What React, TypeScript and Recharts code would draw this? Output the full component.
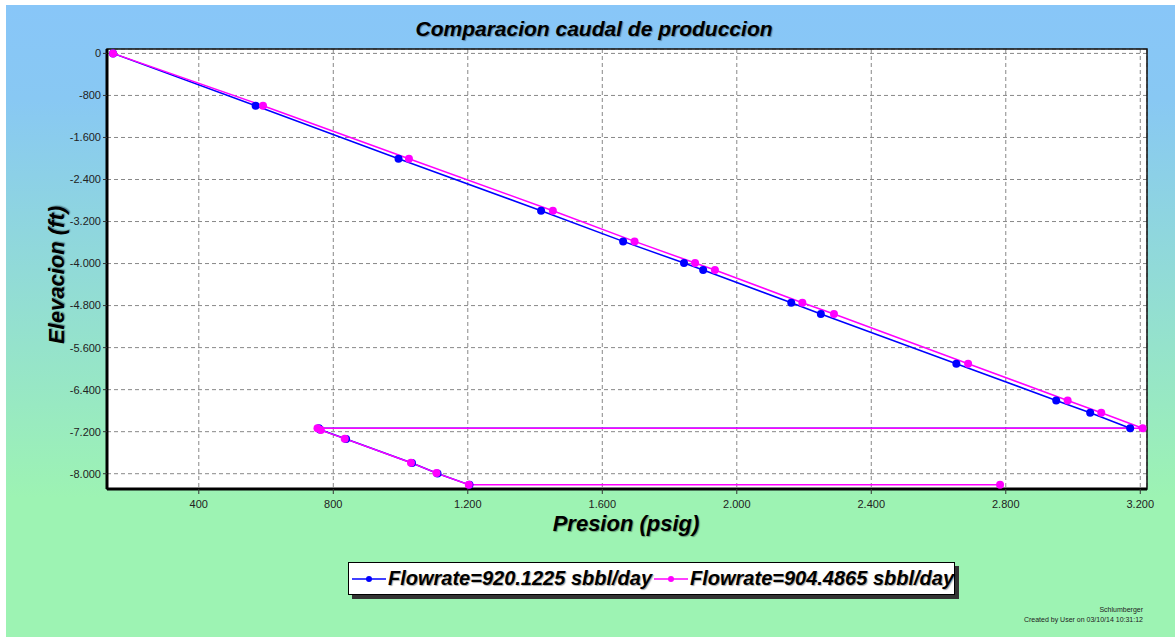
import React from 'react';
import { ComposedChart, Line, XAxis, YAxis, CartesianGrid, ReferenceArea } from 'recharts';

const chartTitle = 'Comparacion caudal de produccion';
const xAxisTitle = 'Presion (psig)';
const yAxisTitle = 'Elevacion (ft)';
const footerLines = ['Schlumberger', 'Created by User on 03/10/14 10:31:12'];

const seriesNames = ['Flowrate=920.1225 sbbl/day', 'Flowrate=904.4865 sbbl/day'];
const seriesColors = ['#0000FF', '#FF00FF'];

const bluePressure = [145, 569, 994, 1418, 1662, 1843, 1900, 2162, 2250, 2653, 2950, 3051, 3170, 757, 760, 838, 1034, 1110, 1205];
const blueElevation = [0, -995, -2004, -2994, -3578, -3990, -4123, -4745, -4960, -5906, -6605, -6839, -7135, -7135, -7160, -7340, -7795, -7995, -8212];

const magentaPressure = [145, 591, 1025, 1453, 1696, 1876, 1935, 2195, 2289, 2688, 2984, 3084, 3207, 753, 763, 834, 1031, 1107, 1203, 2783];
const magentaElevation = [0, -995, -2004, -2994, -3578, -3990, -4123, -4745, -4960, -5906, -6605, -6839, -7135, -7135, -7170, -7333, -7790, -7988, -8210, -8210];

const xDomain = [127, 3220];
const yDomain = [-8291, 84];
const xTicks = [400, 800, 1200, 1600, 2000, 2400, 2800, 3200];
const yTicks = [0, -800, -1600, -2400, -3200, -4000, -4800, -5600, -6400, -7200, -8000];
const xMinorTicks = [200, 300, 400, 500, 600, 700, 800, 900, 1000, 1100, 1200, 1300, 1400, 1500, 1600, 1700, 1800, 1900, 2000, 2100, 2200, 2300, 2400, 2500, 2600, 2700, 2800, 2900, 3000, 3100, 3200];
const yMinorTicks = [0, -200, -400, -600, -800, -1000, -1200, -1400, -1600, -1800, -2000, -2200, -2400, -2600, -2800, -3000, -3200, -3400, -3600, -3800, -4000, -4200, -4400, -4600, -4800, -5000, -5200, -5400, -5600, -5800, -6000, -6200, -6400, -6600, -6800, -7000, -7200, -7400, -7600, -7800, -8000, -8200];

const blueData = bluePressure.map((p, i) => ({ p, e: blueElevation[i] }));
const magentaData = magentaPressure.map((p, i) => ({ p, e: magentaElevation[i] }));
const seriesData = [blueData, magentaData];

const fmt = (v: number) => {
  const neg = v < 0;
  const s = String(Math.abs(Math.round(v)));
  const withSep = s.replace(/\B(?=(\d{3})+(?!\d))/g, '.');
  return (neg ? '-' : '') + withSep;
};

const FONT = '"Liberation Sans", Arial, sans-serif';
const tickStyle = { fontSize: 11, fill: '#222', fontFamily: FONT };

export default function App() {
  return (
    <div style={{ position: 'absolute', left: 0, top: 0, width: 1175, height: 637, overflow: 'hidden', background: '#fff' }}>
      <div
        style={{
          position: 'absolute',
          left: 6,
          top: 5,
          width: 1169,
          height: 632,
          background: 'linear-gradient(to bottom, #88C6F8 0%, #88C8F3 15%, #9DF3B3 78%, #9DF3B3 100%)',
        }}
      />
      <div
        style={{
          position: 'absolute',
          left: 294,
          top: 17,
          width: 600,
          textAlign: 'center',
          fontFamily: FONT,
          fontWeight: 'bold',
          fontStyle: 'italic',
          fontSize: 21,
          lineHeight: '24px',
          color: '#000',
          textShadow: '1px 1px 1px rgba(0,0,0,0.35)',
        }}
      >
        {chartTitle}
      </div>
      <div style={{ position: 'absolute', left: 0, top: 0 }}>
        <ComposedChart width={1175} height={637} margin={{ top: 49, right: 28, left: 0, bottom: 118 }}>
          <CartesianGrid
            stroke="#888"
            strokeDasharray="4 3"
            fill="#fff"
          />
          <XAxis
            xAxisId="minor"
            type="number"
            dataKey="p"
            domain={xDomain}
            ticks={xMinorTicks}
            allowDataOverflow
            tickFormatter={() => ''}
            height={0}
            axisLine={false}
            tickLine={{ stroke: '#333' }}
            tickSize={3}
          />
          <XAxis
            type="number"
            dataKey="p"
            domain={xDomain}
            ticks={xTicks}
            allowDataOverflow
            tickFormatter={fmt}
            tick={tickStyle}
            tickSize={5}
            tickMargin={6}
            tickLine={{ stroke: '#333' }}
            axisLine={{ stroke: '#000', strokeWidth: 3 }}
            height={30}
          />
          <YAxis
            yAxisId="minor"
            type="number"
            dataKey="e"
            domain={yDomain}
            ticks={yMinorTicks}
            allowDataOverflow
            tickFormatter={() => ''}
            width={0}
            axisLine={false}
            tickLine={{ stroke: '#333' }}
            tickSize={3}
          />
          <YAxis
            type="number"
            dataKey="e"
            domain={yDomain}
            ticks={yTicks}
            allowDataOverflow
            tickFormatter={fmt}
            tick={tickStyle}
            tickSize={4}
            tickMargin={2}
            tickLine={{ stroke: '#333' }}
            axisLine={{ stroke: '#000', strokeWidth: 3 }}
            width={107}
          />
          <ReferenceArea
            x1={xDomain[0]}
            x2={xDomain[1]}
            y1={yDomain[0]}
            y2={yDomain[1]}
            fill="none"
            fillOpacity={0}
            stroke="#111"
            strokeWidth={1.5}
            ifOverflow="visible"
          />
          {seriesData.map((d, i) => (
            <Line
              key={seriesNames[i]}
              data={d}
              dataKey="e"
              name={seriesNames[i]}
              type="linear"
              stroke={seriesColors[i]}
              strokeWidth={1.5}
              dot={{ r: 4, fill: seriesColors[i], stroke: seriesColors[i], strokeWidth: 0 }}
              activeDot={false}
              isAnimationActive={false}
            />
          ))}
        </ComposedChart>
      </div>
      <div
        style={{
          position: 'absolute',
          left: 57 - 100,
          top: 275 - 14,
          width: 200,
          height: 28,
          textAlign: 'center',
          transform: 'rotate(-90deg)',
          fontFamily: FONT,
          fontWeight: 'bold',
          fontStyle: 'italic',
          fontSize: 22,
          lineHeight: '28px',
          color: '#000',
          textShadow: '1px 1px 1px rgba(0,0,0,0.35)',
        }}
      >
        {yAxisTitle}
      </div>
      <div
        style={{
          position: 'absolute',
          left: 626 - 150,
          top: 510,
          width: 300,
          textAlign: 'center',
          fontFamily: FONT,
          fontWeight: 'bold',
          fontStyle: 'italic',
          fontSize: 22,
          lineHeight: '28px',
          color: '#000',
          textShadow: '1px 1px 1px rgba(0,0,0,0.35)',
        }}
      >
        {xAxisTitle}
      </div>
      <div
        style={{
          position: 'absolute',
          left: 348,
          top: 562,
          width: 607,
          height: 33,
          boxSizing: 'border-box',
          border: '1px solid #000',
          background: '#fff',
          boxShadow: '4px 4px 0 #333',
          display: 'flex',
          alignItems: 'center',
          fontFamily: FONT,
          fontWeight: 'bold',
          fontStyle: 'italic',
          fontSize: 20,
          color: '#000',
          whiteSpace: 'nowrap',
        }}
      >
        {seriesNames.map((n, i) => (
          <div key={n} style={{ display: 'flex', alignItems: 'center', marginLeft: i === 0 ? 3 : 2 }}>
            <svg width={34} height={12} style={{ display: 'block' }}>
              <line x1={0} y1={6} x2={34} y2={6} stroke={seriesColors[i]} strokeWidth={1.5} />
              <circle cx={17} cy={6} r={3} fill={seriesColors[i]} />
            </svg>
            <span style={{ textShadow: '1px 1px 1px rgba(0,0,0,0.35)', marginLeft: 2 }}>{n}</span>
          </div>
        ))}
      </div>
      {footerLines.map((t, i) => (
        <div
          key={t}
          style={{
            position: 'absolute',
            right: 1175 - 1143,
            top: 605 + i * 10,
            fontFamily: FONT,
            fontSize: 7,
            lineHeight: '10px',
            color: '#222',
            whiteSpace: 'nowrap',
          }}
        >
          {t}
        </div>
      ))}
    </div>
  );
}
